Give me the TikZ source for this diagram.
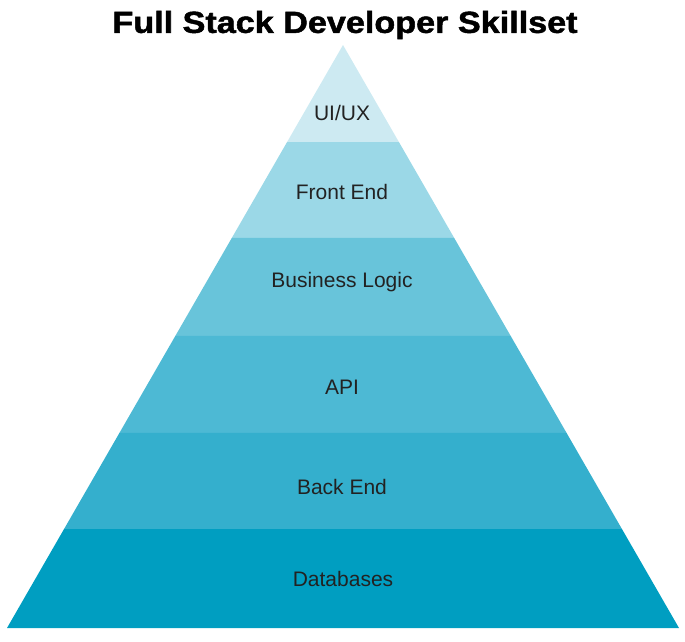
\documentclass[tikz,border=0pt]{standalone}
\usepackage{fontspec}
\setmainfont{Liberation Sans}
\newfontfamily\titlefont[FakeBold=1.5]{Liberation Sans Bold}
\usetikzlibrary{calc}
\definecolor{lay1}{HTML}{CDEAF2}
\definecolor{lay2}{HTML}{9BD8E7}
\definecolor{lay3}{HTML}{68C4DA}
\definecolor{lay4}{HTML}{4DB9D4}
\definecolor{lay5}{HTML}{34AFCD}
\definecolor{lay6}{HTML}{009EC1}
\definecolor{labtxt}{HTML}{222222}
\tikzset{
  laylabel/.style={text=labtxt, font=\fontsize{21}{25}\selectfont, inner sep=0pt, anchor=base},
  titletext/.style={font=\titlefont\fontsize{30.5}{36}\selectfont, text=black, inner sep=0pt}
}
\begin{document}
\begin{tikzpicture}[x=1pt,y=-1pt]
\useasboundingbox (0,0) rectangle (685,641);
\coordinate (A) at (343,45);
\coordinate (L) at (7,628);
\coordinate (R) at (679,628);
\foreach \ta/\tb/\col in {0/0.1664/lay1, 0.1664/0.3310/lay2, 0.3310/0.4991/lay3, 0.4991/0.6655/lay4, 0.6655/0.8302/lay5, 0.8302/1/lay6}{
  \fill[\col] ($(A)!\ta!(L)$) -- ($(A)!\tb!(L)$) -- ($(A)!\tb!(R)$) -- ($(A)!\ta!(R)$) -- cycle;
}
\node[titletext] (title) at (345,25) {\scalebox{1.12}[1]{Full Stack Developer Skillset}};
\node[laylabel] (uiux) at (342,120.5) {UI/UX};
\node[laylabel] (front) at (342,199.5) {Front End};
\node[laylabel] (logic) at (342,287) {Business Logic};
\node[laylabel] (api) at (342,394.5) {API};
\node[laylabel] (back) at (342,494.5) {Back End};
\node[laylabel] (db) at (343,586) {Databases};
\end{tikzpicture}
\end{document}
